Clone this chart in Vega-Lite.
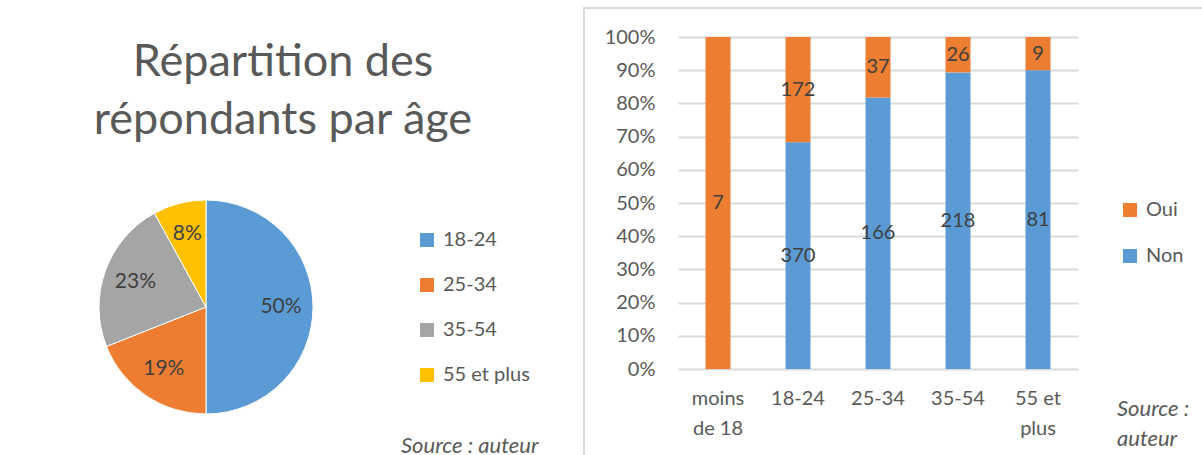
{
  "$schema": "https://vega.github.io/schema/vega-lite/v6.json",
  "padding": {"left": 0, "top": 7, "right": 0, "bottom": 0},
  "background": "white",
  "bounds": "flush",
  "spacing": 172,
  "resolve": {"scale": {"color": "independent"}, "legend": {"color": "independent"}},
  "config": {
    "font": "Lato",
    "view": {"stroke": null}
  },
  "datasets": {
    "pie": [
      {"age": "18-24", "pct": 0.50},
      {"age": "25-34", "pct": 0.19},
      {"age": "35-54", "pct": 0.23},
      {"age": "55 et plus", "pct": 0.08}
    ],
    "bars": [
      {"age": "moins de 18", "rep": "Oui", "n": 7},
      {"age": "18-24", "rep": "Non", "n": 370},
      {"age": "18-24", "rep": "Oui", "n": 172},
      {"age": "25-34", "rep": "Non", "n": 166},
      {"age": "25-34", "rep": "Oui", "n": 37},
      {"age": "35-54", "rep": "Non", "n": 218},
      {"age": "35-54", "rep": "Oui", "n": 26},
      {"age": "55 et plus", "rep": "Non", "n": 81},
      {"age": "55 et plus", "rep": "Oui", "n": 9}
    ]
  },
  "title": {
    "text": "Source : auteur",
    "orient": "bottom",
    "anchor": "start",
    "frame": "group",
    "dx": 401,
    "offset": -170,
    "fontSize": 22,
    "fontStyle": "italic",
    "fontWeight": "normal",
    "color": "#595959",
    "font": "Lato"
  },
  "hconcat": [
    {
      "width": 412,
      "height": 598,
      "data": {"name": "pie"},
      "title": {
        "text": ["Répartition des", "répondants par âge"],
        "orient": "top",
        "anchor": "middle",
        "frame": "group",
        "dx": 77,
        "offset": -171,
        "baseline": "alphabetic",
        "fontSize": 45,
        "fontWeight": "normal",
        "font": "Lato",
        "color": "#595959",
        "lineHeight": 58
      },
      "encoding": {
        "theta": {"field": "pct", "type": "quantitative", "stack": true},
        "order": {"field": "age", "sort": "ascending"},
        "color": {
          "field": "age",
          "type": "nominal",
          "scale": {
            "domain": ["18-24", "25-34", "35-54", "55 et plus"],
            "range": ["#5B9BD5", "#ED7D31", "#A5A5A5", "#FFC000"]
          },
          "legend": {
            "orient": "none",
            "legendX": 417,
            "legendY": 222,
            "title": null,
            "symbolType": "square",
            "symbolSize": 196,
            "symbolStrokeWidth": 0,
            "labelFontSize": 20,
            "labelFont": "Lato",
            "labelColor": "#595959",
            "labelOffset": 6,
            "rowPadding": 25,
            "padding": 0
          }
        }
      },
      "layer": [
        {"mark": {"type": "arc", "outerRadius": 107, "stroke": "white", "strokeWidth": 1}},
        {
          "mark": {"type": "text", "radius": 75, "fontSize": 21, "font": "Lato"},
          "encoding": {
            "detail": {"field": "age"},
            "text": {"field": "pct", "type": "quantitative", "format": ".0%"},
            "color": {"value": "#404040"}
          }
        }
      ]
    },
    {
      "width": 625,
      "height": 470,
      "view": {"stroke": "#D9D9D9", "strokeWidth": 2},
      "data": {"name": "bars"},
      "title": {
        "text": ["Source :", "auteur"],
        "orient": "bottom",
        "anchor": "start",
        "frame": "group",
        "dx": 533,
        "offset": -79,
        "baseline": "top",
        "fontSize": 22,
        "fontStyle": "italic",
        "fontWeight": "normal",
        "font": "Lato",
        "color": "#595959",
        "lineHeight": 30
      },
      "encoding": {
        "x": {
          "field": "age",
          "type": "nominal",
          "sort": ["moins de 18", "18-24", "25-34", "35-54", "55 et plus"],
          "scale": {"range": [94, 494], "paddingInner": 0.6875, "paddingOuter": 0.34375},
          "axis": {
            "title": null,
            "domain": false,
            "ticks": false,
            "grid": false,
            "labelAngle": 0,
            "labelFontSize": 20,
            "labelFont": "Lato",
            "labelColor": "#595959",
            "labelLineHeight": 30,
            "labelPadding": 0,
            "offset": -90,
            "labelExpr": "datum.label == 'moins de 18' ? ['moins', 'de 18'] : datum.label == '55 et plus' ? ['55 et', 'plus'] : datum.label"
          }
        },
        "y": {
          "field": "n",
          "type": "quantitative",
          "stack": "normalize",
          "scale": {"domain": [0, 1], "range": [361, 29]},
          "axis": {
            "title": null,
            "values": [0, 0.1, 0.2, 0.3, 0.4, 0.5, 0.6, 0.7, 0.8, 0.9, 1],
            "format": ".0%",
            "domain": false,
            "ticks": false,
            "grid": true,
            "gridColor": "#D9D9D9",
            "gridWidth": 2,
            "labelFontSize": 20,
            "labelFont": "Lato",
            "labelColor": "#595959",
            "labelPadding": 6,
            "offset": -77
          }
        },
        "color": {
          "field": "rep",
          "type": "nominal",
          "scale": {"domain": ["Oui", "Non"], "range": ["#ED7D31", "#5B9BD5"]},
          "legend": {
            "orient": "none",
            "legendX": 536,
            "legendY": 192,
            "title": null,
            "symbolType": "square",
            "symbolSize": 196,
            "symbolStrokeWidth": 0,
            "labelFontSize": 20,
            "labelFont": "Lato",
            "labelColor": "#595959",
            "labelOffset": 6,
            "rowPadding": 26,
            "padding": 0
          }
        },
        "order": {"field": "rep", "sort": "ascending"}
      },
      "layer": [
        {"mark": {"type": "bar"}},
        {
          "mark": {"type": "text", "fontSize": 20, "font": "Lato"},
          "encoding": {
            "y": {"field": "n", "type": "quantitative", "stack": "normalize", "bandPosition": 0.5},
            "detail": {"field": "rep"},
            "text": {"field": "n", "type": "quantitative"},
            "color": {"value": "#404040"}
          }
        }
      ]
    }
  ]
}
